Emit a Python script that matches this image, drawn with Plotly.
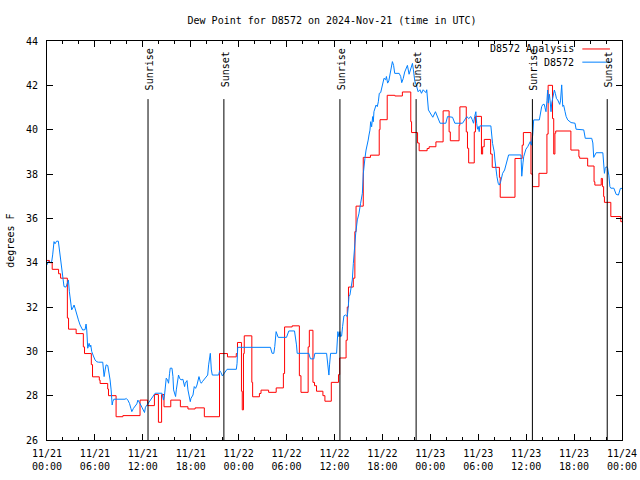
import pandas as pd
import plotly.graph_objects as go

BASE = pd.Timestamp("2024-11-21 00:00")

# D8572 Analysis (hours since 11/21 00:00 UTC, degrees F) - step values
analysis_hours = [0.0, 0.3, 0.65, 1.45, 1.7, 2.55, 2.7, 3.65, 4.55, 4.7, 5.55, 5.7, 6.55, 6.65, 7.6, 7.7,
                  8.65, 9.5, 11.65, 12.6, 13.45, 13.95, 14.35, 14.65, 15.5, 16.7, 17.65, 18.55, 19.7,
                  21.6, 22.6, 23.7, 23.85, 24.35, 24.45, 24.6, 24.7, 25.65, 25.75, 26.6, 26.8, 27.75,
                  28.7, 29.6, 29.75, 30.7, 31.6, 31.8, 32.7, 32.85, 33.3, 33.5, 33.75, 34.55, 34.8,
                  35.6, 36.5, 36.65, 37.45, 37.6, 37.75, 38.35, 38.55, 38.7, 39.6, 40.5, 41.6, 41.7,
                  42.6, 43.55, 44.5, 45.55, 45.65, 46.4, 46.6, 47.6, 47.85, 48.7, 49.6, 50.35, 50.5,
                  51.6, 51.7, 52.5, 52.65, 52.8, 53.5, 53.65, 54.4, 54.55, 54.75, 55.55, 55.75, 56.65,
                  56.75, 58.6, 59.5, 59.65, 60.6, 60.8, 61.6, 62.6, 62.75, 63.3, 63.45, 63.6, 63.7,
                  65.6, 66.6, 66.7, 67.7, 68.5, 68.6, 69.4, 69.55, 69.7, 69.8, 70.6, 71.85, 72.0]
analysis_vals = [34.1, 34.0, 33.7, 33.5, 33.3, 31.5, 31.0, 30.8, 30.2, 29.9, 29.4, 28.85, 28.7, 28.55, 28.3, 28.0,
                 27.05, 27.1, 27.8, 27.55, 28.05, 26.8, 28.05, 27.5, 27.8, 27.5, 27.4, 27.45, 27.05,
                 29.9, 29.75, 29.9, 30.4, 28.2, 27.36, 29.9, 30.7, 28.6, 27.95, 28.1, 28.25, 28.15,
                 28.35, 29.0, 31.1, 31.15, 28.9, 28.15, 30.2, 30.95, 28.6, 28.45, 28.2, 28.0, 27.75,
                 28.6, 28.95, 29.7, 30.5, 32.0, 32.9, 33.3, 35.4, 36.55, 38.75, 38.85, 40.0, 40.45,
                 41.55, 41.52, 41.7, 40.36, 39.87, 39.4, 39.05, 39.15, 39.23, 39.45, 40.85, 39.9, 39.5,
                 40.2, 41.03, 39.9, 39.16, 38.5, 39.9, 40.6, 38.9, 39.23, 39.56, 38.9, 38.3, 37.85,
                 36.95, 38.7, 39.3, 39.87, 38.0, 37.43, 38.03, 39.8, 42.0, 40.5, 38.9, 39.84, 39.94,
                 39.08, 38.78, 38.71, 38.36, 37.65, 37.5, 37.8, 37.43, 36.98, 36.72, 36.08, 35.85, 35.85]

# D8572 observations
obs_hours = [0.0, 0.17, 0.38, 0.59, 0.71, 0.88, 1.0, 1.2, 1.42, 1.55, 1.71, 1.84, 1.96, 2.13, 2.38, 2.55,
             2.68, 2.8, 2.97, 3.09, 3.22, 3.39, 3.51, 3.72, 3.93, 4.14, 4.35, 4.47, 4.77, 4.89, 4.98,
             5.1, 5.27, 5.4, 5.48, 5.6, 5.81, 6.02, 6.23, 6.44, 6.98, 7.07, 7.15, 7.28, 7.4, 7.61,
             7.78, 7.9, 8.03, 8.16, 8.24, 8.37, 9.79, 9.91, 10.12, 10.33, 10.5, 10.62, 10.83, 11.04,
             11.25, 11.38, 11.54, 11.67, 11.88, 12.08, 12.21, 12.33, 12.51, 12.71, 12.92, 13.14,
             13.34, 13.55, 14.39, 14.47, 14.59, 14.72, 14.84, 14.93, 15.09, 15.22, 15.35, 15.43,
             15.65, 15.77, 15.85, 15.97, 16.1, 16.19, 16.35, 16.47, 16.6, 16.78, 17.02, 17.1, 17.23,
             17.31, 17.53, 17.65, 17.78, 17.94, 18.03, 18.16, 18.28, 18.44, 18.61, 18.78, 18.91,
             19.03, 19.2, 19.32, 19.45, 19.61, 19.74, 19.95, 20.12, 20.24, 20.36, 20.45, 20.58,
             20.7, 21.49, 21.62, 21.79, 21.96, 22.13, 22.33, 22.55, 23.71, 23.8, 23.88, 27.98,
             28.07, 28.19, 28.4, 28.52, 28.69, 28.82, 28.95, 29.99, 30.16, 30.28, 30.99, 31.12,
             31.24, 31.33, 32.79, 32.87, 33.0, 33.41, 33.54, 35.01, 35.09, 35.22, 35.3, 35.38,
             35.51, 36.26, 36.35, 36.42, 36.55, 36.68, 36.76, 36.89, 37.01, 37.18, 37.39, 37.6,
             37.73, 37.81, 37.93, 38.11, 38.23, 38.36, 38.52, 38.65, 38.86, 39.05, 39.27, 39.4,
             39.49, 39.61, 39.7, 39.81, 39.95, 40.11, 40.22, 40.32, 40.44, 40.53, 40.65, 40.78,
             40.86, 40.94, 41.07, 41.2, 41.36, 41.49, 41.61, 41.78, 42.2, 42.4, 42.5, 42.65, 42.8,
             43.04, 43.25, 43.4, 43.54, 44.1, 44.29, 44.42, 44.6, 44.79, 45.05, 45.13, 45.34, 45.5,
             45.65, 45.76, 45.88, 46.05, 46.25, 46.47, 46.7, 46.89, 47.1, 47.3, 47.45, 47.55, 47.64,
             47.76, 48.14, 48.31, 48.64, 48.97, 49.22, 49.94, 50.15, 50.78, 51.07, 52.03, 52.3,
             52.57, 52.8, 53.07, 53.25, 53.41, 53.55, 53.7, 53.8, 53.91, 54.0, 54.12, 54.2, 55.58,
             55.79, 56.0, 56.09, 56.2, 56.34, 56.5, 56.63, 56.8, 57.05, 57.3, 57.68, 57.8, 59.35,
             59.45, 59.6, 59.69, 59.97, 60.19, 60.51, 60.65, 60.82, 60.94, 61.65, 61.77, 61.94,
             62.1, 62.27, 62.35, 62.48, 62.6, 62.69, 62.78, 62.9, 63.0, 63.11, 63.2, 63.36, 63.53,
             63.65, 63.8, 63.95, 64.1, 64.2, 64.3, 64.45, 64.58, 64.7, 64.87, 65.0, 65.2, 65.62,
             66.12, 66.25, 67.21, 67.29, 67.4, 68.21, 68.35, 68.46, 68.6, 68.76, 69.6, 69.7, 69.8,
             69.9, 70.05, 70.2, 70.35, 70.48, 70.6, 70.98, 71.15, 71.27, 71.55, 71.65, 71.8, 72.0]
obs_vals = [33.9, 34.05, 34.0, 34.05, 34.35, 34.95, 34.85, 34.97, 34.97, 34.57, 34.09, 33.7, 33.3, 32.92, 32.9, 33.14,
            33.22, 32.69, 32.32, 31.87, 31.95, 32.09, 31.95, 31.64, 31.42, 31.19, 31.04, 30.96, 30.98, 31.23, 30.96,
            30.14, 30.36, 30.2, 30.28, 29.99, 29.79, 29.61, 29.53, 29.51, 29.51, 29.08, 28.86, 29.16, 29.39, 29.36,
            29.01, 28.71, 28.26, 27.58, 27.73, 27.84, 27.84, 27.88, 27.8, 27.65, 27.43, 27.28, 27.43, 27.55,
            27.63, 27.8, 27.72, 27.63, 27.48, 27.36, 27.24, 27.48, 27.58, 27.65, 27.8, 27.88,
            28.03, 28.11, 28.11, 27.88, 27.8, 28.03, 28.33, 28.79, 28.71, 28.56, 29.01, 29.24,
            29.24, 28.86, 28.26, 28.03, 27.96, 28.26, 28.63, 28.93, 28.79, 28.71, 28.74, 28.63, 28.41,
            28.56, 28.68, 28.26, 27.96, 27.73, 27.88, 27.96, 28.03, 28.41, 28.33, 28.48, 28.79,
            28.86, 28.63, 28.56, 28.63, 28.71, 28.79, 28.89, 28.93, 29.39, 29.64, 29.91, 29.16,
            28.93, 28.93, 29.13, 29.04, 28.89, 28.98, 29.08, 29.19, 29.19, 29.46, 30.18, 30.18,
            30.06, 29.91, 29.91, 30.21, 30.89, 30.74, 30.63, 30.63, 30.78, 30.92, 30.92, 30.66,
            30.29, 29.91, 29.91, 29.79, 29.66, 29.66, 29.91, 29.91, 29.64, 29.24, 28.93, 29.39,
            29.91, 29.91, 30.36, 30.89, 30.66, 30.89, 30.66, 30.69, 31.11, 31.6, 31.64, 31.57,
            32.02, 32.47, 32.54, 32.92, 33.22, 33.97, 34.87, 35.3, 35.93, 36.2, 36.68, 36.98,
            37.13, 38.03, 38.48, 38.71, 39.08, 39.31, 39.53, 39.76, 39.98, 40.36, 40.13, 40.59,
            40.36, 40.81, 40.96, 41.11, 41.04, 41.26, 41.64, 41.67, 42.32, 42.25, 42.4, 42.1, 42.2,
            42.7, 43.07, 42.9, 42.54, 42.54, 42.4, 42.12, 42.3, 42.6, 42.85, 42.9, 42.5, 42.7,
            42.9, 42.99, 42.7, 42.2, 42.0, 41.71, 41.8, 41.64, 41.8, 41.71, 41.67, 41.8, 41.34,
            40.89, 40.66, 40.56, 40.81, 40.51, 40.29, 40.29, 40.59, 40.56, 40.29, 40.29, 40.45,
            40.59, 40.5, 40.59, 40.45, 40.29, 40.59, 40.81, 40.29, 40.02, 40.14, 39.91, 40.17, 40.17,
            39.38, 39.0, 38.63, 38.18, 37.88, 37.58, 37.5, 37.65, 38.03, 38.18, 38.71, 38.86, 38.86,
            37.9, 38.5, 38.78, 39.12, 39.23, 39.46, 39.3, 39.76, 40.44, 40.44, 40.74, 41.04,
            41.14, 41.14, 41.0, 40.81, 41.3, 41.79, 41.2, 41.6, 41.3, 40.81, 41.2, 41.49, 41.79,
            41.64, 41.4, 41.34, 41.2, 41.14, 41.3, 42.02, 41.05, 41.1, 40.81, 40.6, 40.44, 40.32,
            40.29, 40.02, 39.99, 39.68, 39.61, 39.61, 39.4, 38.75, 38.85, 38.96, 38.96, 38.26, 38.03,
            38.26, 38.33, 38.26, 37.95, 37.43, 37.36, 37.36, 37.2, 37.08, 37.05, 37.2, 37.35, 37.35]

sunrise_hours = [12.65, 36.68, 60.78]
sunset_hours = [22.15, 46.22, 70.15]

tick_hours = [0, 6, 12, 18, 24, 30, 36, 42, 48, 54, 60, 66, 72]
tick_labels = ["11/21<br>00:00", "11/21<br>06:00", "11/21<br>12:00", "11/21<br>18:00",
               "11/22<br>00:00", "11/22<br>06:00", "11/22<br>12:00", "11/22<br>18:00",
               "11/23<br>00:00", "11/23<br>06:00", "11/23<br>12:00", "11/23<br>18:00",
               "11/24<br>00:00"]
y_ticks = [26, 28, 30, 32, 34, 36, 38, 40, 42, 44]

series_names = ["D8572 Analysis", "D8572"]
series_colors = ["#ff0000", "#0080ff"]


def to_time(hours):
    return BASE + pd.to_timedelta(pd.Series(hours), unit="h")


FONT = "DejaVu Sans Mono"

fig = go.Figure()
fig.add_trace(go.Scatter(x=to_time(analysis_hours), y=analysis_vals, mode="lines",
                         line=dict(color=series_colors[0], width=1, shape="hv"),
                         name=series_names[0], showlegend=False))
fig.add_trace(go.Scatter(x=to_time(obs_hours), y=obs_vals, mode="lines",
                         line=dict(color=series_colors[1], width=1),
                         name=series_names[1], showlegend=False))

shapes = []
annotations = []
for label, hrs in (("Sunrise", sunrise_hours), ("Sunset", sunset_hours)):
    for t in to_time(hrs):
        shapes.append(dict(type="line", xref="x", yref="y", x0=t, x1=t, y0=26, y1=41.38,
                           line=dict(color="black", width=1)))
        annotations.append(dict(x=t, y=42.72, xref="x", yref="y", text=label, textangle=-90,
                                showarrow=False, xanchor="center", yanchor="middle", xshift=1,
                                font=dict(family=FONT, size=10, color="black")))

# gnuplot-style legend (text then line sample), top right
legend_rows_y = [0.980, 0.947]
for name, color, ly in zip(series_names, series_colors, legend_rows_y):
    annotations.append(dict(x=0.9205, y=ly, xref="paper", yref="paper", text=name, showarrow=False,
                            xanchor="right", yanchor="middle",
                            font=dict(family=FONT, size=10, color="black")))
    shapes.append(dict(type="line", xref="paper", yref="paper", x0=0.931, x1=0.979, y0=ly, y1=ly,
                       line=dict(color=color, width=1)))

annotations.append(dict(x=-0.064, y=0.5, xref="paper", yref="paper", text="degrees F",
                        textangle=-90, showarrow=False, xanchor="center", yanchor="middle",
                        font=dict(family=FONT, size=10, color="black")))

fig.update_layout(
    width=640, height=480,
    margin=dict(l=47, r=18, t=41, b=40, autoexpand=False),
    paper_bgcolor="white", plot_bgcolor="white",
    font=dict(family=FONT, size=10, color="black"),
    title=dict(text="Dew Point for D8572 on 2024-Nov-21 (time in UTC)", x=0.4957, xanchor="center",
               xref="paper", y=0.958, yanchor="middle", font=dict(family=FONT, size=10, color="black")),
    shapes=shapes, annotations=annotations, showlegend=False,
)
fig.update_xaxes(range=[BASE, BASE + pd.Timedelta(hours=72)], tickmode="array",
                 tickvals=to_time(tick_hours), ticktext=tick_labels, automargin=False,
                 showline=True, linecolor="black", linewidth=1, mirror="ticks",
                 ticks="inside", ticklen=6, tickcolor="black", showgrid=False, zeroline=False,
                 ticklabelstandoff=4,
                 minor=dict(tickmode="linear", tick0=BASE, dtick=2 * 3600 * 1000, ticks="inside",
                            ticklen=3, tickcolor="black", showgrid=False))
fig.update_yaxes(range=[26, 44], tickmode="array", tickvals=y_ticks, automargin=False,
                 showline=True, linecolor="black", linewidth=1, mirror="ticks",
                 ticks="inside", ticklen=6, tickcolor="black", showgrid=False, zeroline=False,
                 ticklabelstandoff=6)

fig.write_html("out.html", config={"displayModeBar": False},
               post_script="document.body.style.margin='0';document.body.style.padding='0';"
                           "document.body.style.overflow='hidden';")
